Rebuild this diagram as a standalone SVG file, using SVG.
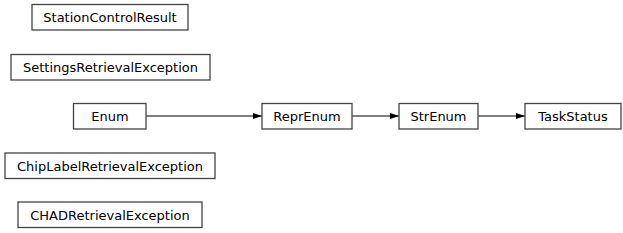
<svg xmlns="http://www.w3.org/2000/svg" width="623" height="233" viewBox="0 0 623 233">
<defs>
<style>
.n rect{fill:#fff;stroke:#444;stroke-width:1.3}
.n text{font-family:"DejaVu Sans",sans-serif;font-size:13px;fill:#000;text-anchor:middle;dominant-baseline:central}
.e line{stroke:#000;stroke-width:1}
</style>
<marker id="ah" viewBox="0 0 9 6" refX="9" refY="3" markerWidth="9" markerHeight="6" markerUnits="userSpaceOnUse" orient="auto">
<path d="M0,0 L9,3 L0,6 Z" fill="#000"/>
</marker>
</defs>
<rect width="623" height="233" fill="#fff"/>
<g class="e">
<line x1="146" y1="116" x2="262" y2="116" marker-end="url(#ah)"/>
<line x1="352" y1="116" x2="399" y2="116" marker-end="url(#ah)"/>
<line x1="478" y1="116" x2="525" y2="116" marker-end="url(#ah)"/>
</g>
<g id="StationControlResult" class="n"><rect x="32" y="4.5" width="156" height="25.5"/><text x="110" y="17.5">StationControlResult</text></g>
<g id="SettingsRetrievalException" class="n"><rect x="11" y="54.5" width="199" height="25.5"/><text x="110.5" y="67.5">SettingsRetrievalException</text></g>
<g id="Enum" class="n"><rect x="73.5" y="103.5" width="72.5" height="25.5"/><text x="110" y="116.5">Enum</text></g>
<g id="ReprEnum" class="n"><rect x="262" y="103.5" width="90" height="25.5"/><text x="307" y="116.5">ReprEnum</text></g>
<g id="StrEnum" class="n"><rect x="399" y="103.5" width="79" height="25.5"/><text x="438.5" y="116.5">StrEnum</text></g>
<g id="TaskStatus" class="n"><rect x="525" y="103.5" width="96" height="25.5"/><text x="573" y="116.5">TaskStatus</text></g>
<g id="ChipLabelRetrievalException" class="n"><rect x="5" y="153" width="210" height="25.5"/><text x="110" y="166">ChipLabelRetrievalException</text></g>
<g id="CHADRetrievalException" class="n"><rect x="18" y="202" width="184" height="25.5"/><text x="110" y="215">CHADRetrievalException</text></g>
</svg>
